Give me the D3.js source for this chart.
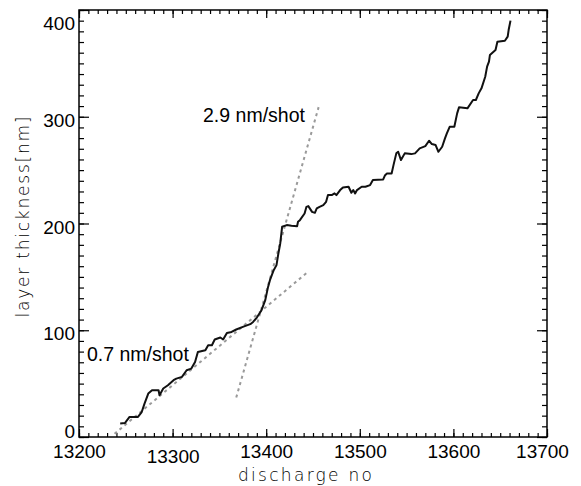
<!DOCTYPE html>
<html>
<head>
<meta charset="utf-8">
<script src="https://cdn.jsdelivr.net/npm/d3@7"></script>
<style>
    body { margin: 0; background: #fff; }
    .tick text { font-family: "Liberation Sans", Arial, sans-serif; font-size: 19px; fill: #000; }
    .title { font-family: "DejaVu Sans", sans-serif; font-weight: 200; font-size: 17px; fill: #000; }
</style>
</head>
<body>
<div id="chart"></div>
<script>
// layer thickness vs discharge number
const dischargeNo = [
    13244, 13249, 13254, 13263, 13267, 13270, 13274, 13278, 13285, 13286,
    13290, 13295, 13301, 13304, 13310, 13315, 13320, 13324, 13327, 13335,
    13338, 13342, 13345, 13351, 13354, 13358, 13363, 13368, 13375, 13383,
    13386, 13390, 13395, 13399, 13402, 13404, 13408, 13411, 13413, 13415,
    13417, 13422, 13427, 13433, 13434, 13436, 13441, 13443, 13445, 13449,
    13452, 13454, 13457, 13461, 13464, 13466, 13470, 13473, 13475, 13479,
    13482, 13488, 13491, 13493, 13495, 13497, 13502, 13506, 13511, 13514,
    13525, 13527, 13529, 13534, 13536, 13539, 13541, 13544, 13548, 13555,
    13559, 13564, 13570, 13574, 13577, 13581, 13584, 13588, 13591, 13593,
    13596, 13601, 13604, 13606, 13615, 13621, 13624, 13627, 13630, 13634,
    13636, 13638, 13639, 13645, 13647, 13655, 13658, 13659, 13661
]
const thickness = [
    12.6, 13.1, 18.8, 18.8, 23.4, 31.3, 40.7, 43.8, 43.8, 39.1,
    45.4, 48.5, 53.2, 54.7, 56.3, 62.5, 64.1, 70.3, 79.7, 81.3,
    86.0, 86.0, 91.3, 93.2, 91.3, 97.5, 98.4, 100.7, 103.1, 105.7,
    107.8, 111.9, 118.8, 128.2, 140.6, 146.9, 156.3, 161.0, 171.9, 181.3,
    196.9, 198.5, 197.8, 197.5, 201.6, 203.1, 209.4, 215.6, 216.3, 210.9,
    210.0, 214.1, 215.6, 217.2, 220.3, 226.6, 226.6, 228.2, 226.6, 231.3,
    233.8, 234.4, 228.8, 231.3, 228.2, 231.3, 234.4, 234.4, 236.0, 240.7,
    241.3, 245.3, 246.9, 246.9, 254.7, 265.7, 267.2, 259.4, 265.7, 265.0,
    265.7, 270.4, 272.5, 277.5, 274.4, 273.5, 267.2, 271.9, 279.7, 284.4,
    290.6, 290.6, 303.2, 308.8, 307.9, 315.7, 315.7, 321.9, 326.6, 337.5,
    346.9, 351.6, 357.8, 362.5, 370.3, 371.2, 375.0, 381.2, 390.0
]

// linear fits drawn as dotted lines
const fitLowX = [13238, 13445]
const fitLowY = [3, 155]
const fitHighX = [13368, 13456]
const fitHighY = [37, 309]
const rateLabels = ["0.7 nm/shot", "2.9 nm/shot"]

const xTicks = [13200, 13300, 13400, 13500, 13600, 13700]
const yTicks = [0, 100, 200, 300, 400]

//dimensions
let dimensions = {
    width: 581,
    height: 486,
    margin: {top: 10, right: 34, bottom: 49, left: 79},
}
const innerW = dimensions.width - dimensions.margin.left - dimensions.margin.right
const innerH = dimensions.height - dimensions.margin.top - dimensions.margin.bottom

const svg = d3.select("#chart")
    .append("svg")
    .attr("width", dimensions.width)
    .attr("height", dimensions.height)
const bounds = svg.append("g")
    .attr("transform", "translate(" + dimensions.margin.left + "," + dimensions.margin.top + ")")

//scales
const xScale = d3.scaleLinear().domain([13200, 13700]).range([0, innerW])
const yScale = d3.scaleLinear().domain([0, 400]).range([innerH, 0])

const xMinor = d3.range(13200, 13701, 10)
const yMinor = d3.range(0, 401, 10)

function minorAxis(axis, values, size) {
    return axis.tickValues(values).tickSize(size).tickFormat("")
}

// minor ticks on all four sides
bounds.append("g").attr("transform", "translate(0," + innerH + ")")
    .call(minorAxis(d3.axisBottom(xScale), xMinor, -4))
bounds.append("g")
    .call(minorAxis(d3.axisTop(xScale), xMinor, -4))
bounds.append("g")
    .call(minorAxis(d3.axisLeft(yScale), yMinor, -5))
bounds.append("g").attr("transform", "translate(" + innerW + ",0)")
    .call(minorAxis(d3.axisRight(yScale), yMinor, -5))

// major ticks
const xAxis = bounds.append("g").attr("transform", "translate(0," + innerH + ")")
    .call(d3.axisBottom(xScale).tickValues(xTicks).tickSize(-8).tickPadding(7).tickFormat(d3.format("d")))
xAxis.selectAll(".tick text")
    .attr("dy", (d, i) => i === 1 ? "1.0em" : "0.75em")
    .attr("dx", (d, i) => i === xTicks.length - 1 ? -5 : 0)
bounds.append("g")
    .call(d3.axisTop(xScale).tickValues(xTicks).tickSize(-8).tickFormat(""))

const yAxis = bounds.append("g")
    .call(d3.axisLeft(yScale).tickValues(yTicks).tickSize(-10).tickPadding(4))
yAxis.selectAll(".tick text")
    .attr("dy", d => d === 400 ? "1.0em" : d === 0 ? "0.05em" : "0.5em")
bounds.append("g").attr("transform", "translate(" + innerW + ",0)")
    .call(d3.axisRight(yScale).tickValues(yTicks).tickSize(-10).tickFormat(""))

bounds.selectAll(".domain").remove()
bounds.selectAll(".tick line").attr("stroke", "#000").attr("stroke-width", 1.2)

bounds.append("rect")
    .attr("width", innerW)
    .attr("height", innerH)
    .attr("fill", "none")
    .attr("stroke", "#000")
    .attr("stroke-width", 1.5)

// fit lines
const fitLine = d3.line()
    .x(d => xScale(d[0]))
    .y(d => yScale(d[1]))
bounds.append("path")
    .attr("d", fitLine(d3.zip(fitLowX, fitLowY)))
    .attr("fill", "none")
    .attr("stroke", "#9a9a9a")
    .attr("stroke-width", 2)
    .attr("stroke-dasharray", "3,3.5")
bounds.append("path")
    .attr("d", fitLine(d3.zip(fitHighX, fitHighY)))
    .attr("fill", "none")
    .attr("stroke", "#9a9a9a")
    .attr("stroke-width", 2)
    .attr("stroke-dasharray", "3,3.5")

// data
bounds.append("path")
    .attr("d", fitLine(d3.zip(dischargeNo, thickness)))
    .attr("fill", "none")
    .attr("stroke", "#111")
    .attr("stroke-width", 2)
    .attr("stroke-linejoin", "round")

// annotations
bounds.append("text")
    .attr("x", xScale(13208.5))
    .attr("y", yScale(71))
    .attr("font-family", "Liberation Sans, Arial, sans-serif")
    .attr("font-size", 19.5)
    .text(rateLabels[0])
bounds.append("text")
    .attr("x", xScale(13332.5))
    .attr("y", yScale(295))
    .attr("font-family", "Liberation Sans, Arial, sans-serif")
    .attr("font-size", 19.5)
    .text(rateLabels[1])

// axis titles
svg.append("text")
    .attr("class", "title")
    .attr("x", 305)
    .attr("y", 481)
    .attr("text-anchor", "middle")
    .attr("textLength", 134)
    .attr("lengthAdjust", "spacing")
    .text("discharge no")
svg.append("text")
    .attr("class", "title")
    .attr("transform", "translate(29,217) rotate(-90)")
    .attr("text-anchor", "middle")
    .attr("textLength", 201)
    .attr("lengthAdjust", "spacing")
    .text("layer thickness[nm]")
</script>
</body>
</html>
